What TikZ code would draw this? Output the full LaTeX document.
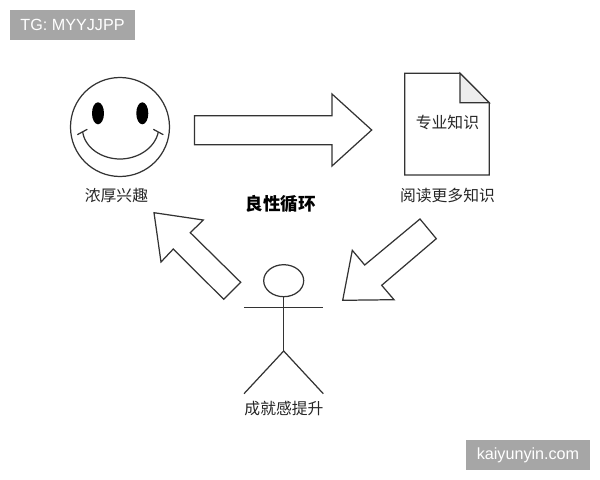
\documentclass[tikz,border=0pt]{standalone}
\usepackage{fontspec}
\setmainfont{Liberation Sans}
\newfontfamily\cjk{Noto Sans CJK SC}
\tikzset{
    outline/.style={draw=black!80, line width=0.7pt, line join=miter},
    caption/.style={font=\cjk\fontsize{9}{11}\selectfont, text=black!85, inner sep=0pt},
    stamp/.style={fill=black!35, text=white, font=\fontsize{9.2}{11}\selectfont, inner sep=0pt, minimum height=0.6cm}
}

\begin{document}
\begin{tikzpicture}[x=0.02cm, y=-0.02cm]
    \useasboundingbox (0, 0) rectangle (600, 480);

    \node[stamp, minimum width=2.5cm] (tg) at (72.5, 25) {TG: MYYJJPP};
    \node[stamp, minimum width=2.48cm] (site) at (528, 455) {kaiyunyin.com};

    % smiley
    \draw[outline] (120, 127) circle (49.5);
    \fill[black] (98, 113.3) ellipse (6 and 11);
    \fill[black] (142.3, 113.3) ellipse (6 and 11);
    \draw[outline] (82.7, 132) .. controls (85, 148) and (102, 159) .. (120, 159) .. controls (138, 159) and (155, 148) .. (158.3, 132);
    \draw[outline] (77.3, 134.7) -- (87.3, 129.3);
    \draw[outline] (153.3, 129.3) -- (163.3, 134.7);
    \node[caption] (interest) at (116.5, 195) {浓厚兴趣};

    % arrow to the page
    \draw[outline] (194.5, 115.7) -- (332, 115.7) -- (332, 94) -- (371.7, 130) -- (332, 166) -- (332, 144.7) -- (194.5, 144.7) -- cycle;

    % page
    \draw[outline] (404.7, 73.3) -- (460, 73.3) -- (489.3, 102.7) -- (489.3, 175) -- (404.7, 175) -- cycle;
    \draw[outline, fill=black!7] (460, 73.3) -- (489.3, 102.7) -- (460, 102.7) -- cycle;
    \node[caption] (topic) at (447.5, 122) {专业知识};
    \node[caption] (reading) at (447.5, 196) {阅读更多知识};

    \node[caption, font=\cjk\bfseries\fontsize{10}{12}\selectfont, text=black] (loop) at (281, 204) {良性循环};

    % arrow to the person
    \draw[outline] (420, 219) -- (436.3, 238.7) -- (381.7, 285.3) -- (394, 299.7) -- (342.7, 300.3) -- (352.3, 250.3) -- (364.7, 265) -- cycle;

    % arrow to the smiley
    \draw[outline] (154, 212.7) -- (203.3, 220) -- (190.3, 232.7) -- (240.7, 282.3) -- (223.7, 299.3) -- (173.3, 249) -- (161, 262) -- cycle;

    % person
    \draw[outline] (283.7, 280.7) ellipse (20 and 16);
    \draw[outline] (244, 307.7) -- (323.3, 307.7);
    \draw[outline] (283.7, 296.7) -- (283.7, 351);
    \draw[outline] (244, 393.7) -- (283.7, 351) -- (323.3, 393.7);
    \node[caption] (reward) at (284, 408.5) {成就感提升};
\end{tikzpicture}
\end{document}
